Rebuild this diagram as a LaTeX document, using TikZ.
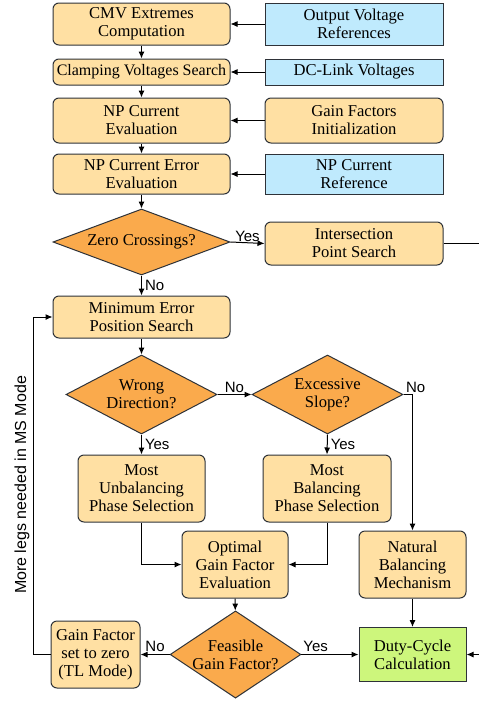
\documentclass[tikz,border=0pt]{standalone}
\usepackage{fontspec}
\setmainfont{Liberation Serif}
\newfontfamily\labelfont{Liberation Sans}
\usepackage{tikz}
\usetikzlibrary{shapes.geometric,arrows.meta}
\definecolor{procfill}{HTML}{FFE0A3}
\definecolor{inputfill}{HTML}{BFEAFD}
\definecolor{testfill}{HTML}{FAAA4C}
\definecolor{dutyfill}{HTML}{CDF67C}
\definecolor{edgecol}{HTML}{2E3238}

\begin{document}
\begin{tikzpicture}[x=1pt, y=-1pt,
  every node/.style = {align=center, inner sep=0pt,
    font=\fontsize{16.6}{18}\selectfont},
  proc/.style = {shape=rectangle, rounded corners=6pt, draw=edgecol,
    line width=1pt, fill=procfill},
  inputbox/.style = {shape=rectangle, draw=edgecol, line width=1pt,
    fill=inputfill},
  test/.style = {shape=diamond, draw=edgecol, line width=1pt,
    fill=testfill},
  dutybox/.style = {shape=rectangle, draw=edgecol, line width=1pt,
    fill=dutyfill},
  flow/.style = {draw=black, line width=1pt,
    -{Latex[length=7pt,width=6pt]}},
  answer/.style = {font=\labelfont\fontsize{15}{17}\selectfont}]
  \useasboundingbox (0,0) rectangle (479,702);
  \node[proc, minimum width=177, minimum height=42] (cmv) at (141.5,24)
    {CMV Extremes\\Computation};
  \node[inputbox, minimum width=178, minimum height=42] (outref) at (354,24)
    {Output Voltage\\References};
  \node[proc, minimum width=177, minimum height=26,
    font=\fontsize{16}{18}\selectfont] (clamp) at (141.5,72)
    {Clamping Voltages Search};
  \node[inputbox, minimum width=178, minimum height=26] (dclink) at (354,72)
    {DC-Link Voltages};
  \node[proc, minimum width=177, minimum height=45] (npeval) at (141.5,120.5)
    {NP Current\\Evaluation};
  \node[proc, minimum width=178, minimum height=45] (gaininit) at (354,120.5)
    {Gain Factors\\Initialization};
  \node[proc, minimum width=177, minimum height=40] (nperr) at (141.5,174)
    {NP Current Error\\Evaluation};
  \node[inputbox, minimum width=178, minimum height=40] (npref) at (354,174)
    {NP Current\\Reference};
  \node[test, shape aspect=2.7, minimum width=177, minimum height=66]
    (zerocross) at (141.5,242) {Zero Crossings?};
  \node[proc, minimum width=178, minimum height=43] (intersect) at (354,243.5)
    {Intersection\\Point Search};
  \node[proc, minimum width=177, minimum height=42] (minerr) at (141.5,317)
    {Minimum Error\\Position Search};
  \node[test, shape aspect=1.9, minimum width=151, minimum height=79]
    (wrongdir) at (141.5,394.5) {Wrong\\Direction?};
  \node[test, shape aspect=1.9, minimum width=151, minimum height=79]
    (slope) at (327.5,394.5) {Excessive\\Slope?};
  \node[proc, minimum width=127, minimum height=67] (unbal) at (141.5,488.5)
    {Most\\Unbalancing\\Phase Selection};
  \node[proc, minimum width=128, minimum height=67] (bal) at (327,488.5)
    {Most\\Balancing\\Phase Selection};
  \node[proc, minimum width=106, minimum height=67] (optgain) at (235,564.5)
    {Optimal\\Gain Factor\\Evaluation};
  \node[proc, minimum width=107, minimum height=67] (natural) at (412.5,564.5)
    {Natural\\Balancing\\Mechanism};
  \node[test, shape aspect=1.5, minimum width=127, minimum height=85]
    (feasible) at (235.5,654.5) {Feasible\\Gain Factor?};
  \node[proc, minimum width=89, minimum height=67] (gainzero) at (95.5,654.5)
    {Gain Factor\\set to zero\\(TL Mode)};
  \node[dutybox, minimum width=107, minimum height=54] (duty) at (412.5,654.5)
    {Duty-Cycle\\Calculation};
  \coordinate (outtop) at (482,243.5);
  \coordinate (outbot) at (482,654.5);
  \coordinate (loopleft) at (33,654.5);

  \draw[flow] (outref) -- (cmv);
  \draw[flow] (dclink) -- (clamp);
  \draw[flow] (gaininit) -- (npeval);
  \draw[flow] (npref) -- (nperr);
  \draw[flow] (cmv) -- (clamp);
  \draw[flow] (clamp) -- (npeval);
  \draw[flow] (npeval) -- (nperr);
  \draw[flow] (nperr) -- (zerocross);
  \draw[flow] (zerocross.east) -- node[answer, above=1pt] {Yes} (intersect.west);
  \draw[line width=1pt] (intersect.east) -- (outtop);
  \draw[flow] (zerocross.south) -- node[answer, right=3pt] {No} (minerr.north);
  \draw[flow] (minerr) -- (wrongdir);
  \draw[flow] (wrongdir.east) -- node[answer, above=1pt] {No} (slope.west);
  \draw[flow] (slope.east) -| node[answer, pos=0, anchor=south west,
    xshift=2pt, yshift=1pt] {No} (natural.north);
  \draw[flow] (wrongdir.south) -- node[answer, right=3pt] {Yes} (unbal.north);
  \draw[flow] (slope.south) -- node[answer, right=3pt] {Yes} (bal.north);
  \draw[flow] (unbal.south) |- (optgain.west);
  \draw[flow] (bal.south) |- (optgain.east);
  \draw[flow] (optgain) -- (feasible);
  \draw[flow] (natural) -- (duty);
  \draw[flow] (feasible.east) -- node[answer, above=2pt, pos=0.25] {Yes} (duty.west);
  \draw[flow] (feasible.west) -- node[answer, above=2pt] {No} (gainzero.east);
  \draw[flow] (outbot) -- (duty.east);
  \draw[flow] (gainzero.west) -- (loopleft) |- (minerr.west);
  \node[answer, font=\labelfont\fontsize{16}{18}\selectfont, rotate=90]
    (msmode) at (22,485) {More legs needed in MS Mode};
\end{tikzpicture}
\end{document}
